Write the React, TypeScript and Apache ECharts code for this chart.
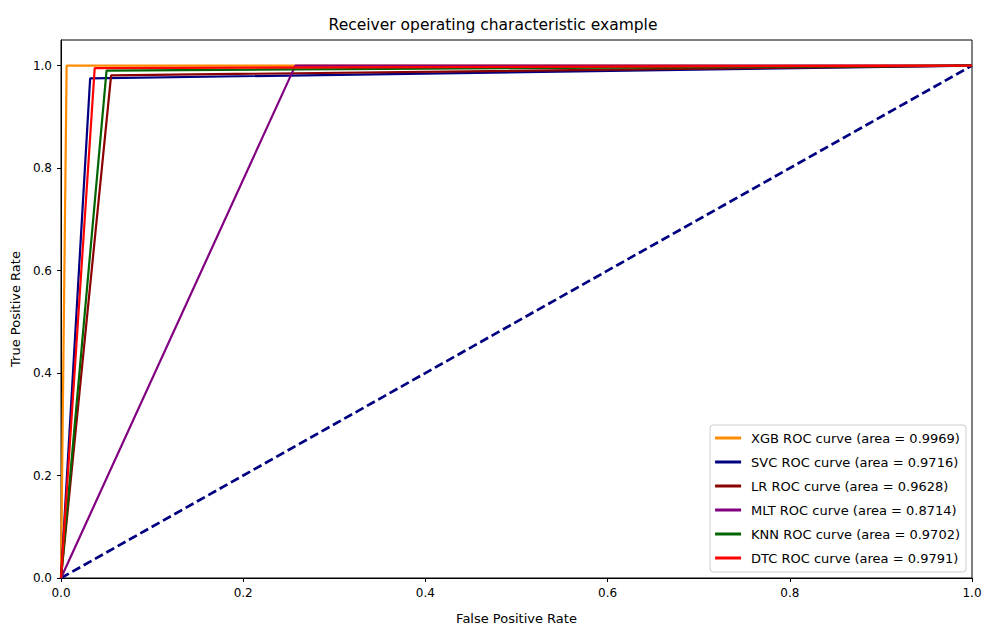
import React, { useEffect, useRef } from "react";
import * as echarts from "echarts";

const models = ["XGB", "SVC", "LR", "MLT", "KNN", "DTC"];
const areas = ["0.9969", "0.9716", "0.9628", "0.8714", "0.9702", "0.9791"];
const cornerFpr = [0.0062, 0.032, 0.055, 0.2572, 0.05, 0.037];
const cornerTpr = [1.0, 0.975, 0.981, 1.0, 0.9904, 0.9952];
const colors = ["#ff8c00", "#000080", "#8b0000", "#800080", "#006400", "#ff0000"];
const chanceLine = [
  [0, 0],
  [1, 1],
];
const tickValues = [0, 0.2, 0.4, 0.6, 0.8, 1.0];

const FONT = "DejaVu Sans";

export default function App() {
  const ref = useRef<HTMLDivElement>(null);
  useEffect(() => {
    if (!ref.current) return;
    const chart = echarts.init(ref.current, undefined, { renderer: "svg" });
    const names = models.map((m, i) => `${m} ROC curve (area = ${areas[i]})`);
    const series: any[] = models.map((m, i) => ({
      name: names[i],
      type: "line",
      symbol: "none",
      data: [
        [0, 0],
        [cornerFpr[i], cornerTpr[i]],
        [1, 1],
      ],
      lineStyle: { color: colors[i], width: 2.2 },
      itemStyle: { color: colors[i] },
      z: 3 + i,
    }));
    series.unshift({
      name: "chance",
      type: "line",
      symbol: "none",
      data: chanceLine,
      lineStyle: { color: "#000080", width: 2.7, type: [9, 4] },
      itemStyle: { color: "#000080" },
      z: 2,
    });
    const axisCommon = {
      type: "value",
      axisLine: { show: true, onZero: false, lineStyle: { color: "#000", width: 1 } },
      axisTick: { show: true, inside: false, length: 4, lineStyle: { color: "#000" }, customValues: tickValues },
      splitLine: { show: false },
      nameTextStyle: { fontFamily: FONT, fontSize: 13, color: "#000" },
    };
    chart.setOption({
      animation: false,
      backgroundColor: "#fff",
      title: {
        text: "Receiver operating characteristic example",
        left: "center",
        top: 12,
        textStyle: { fontFamily: FONT, fontSize: 15.5, fontWeight: "normal", color: "#000" },
      },
      grid: {
        left: 61,
        right: 14,
        top: 40,
        bottom: 50,
        outerBoundsMode: "none",
        containLabel: false,
        show: true,
        borderColor: "#000",
        borderWidth: 1,
        backgroundColor: "transparent",
      },
      xAxis: {
        ...axisCommon,
        min: 0,
        max: 1,
        interval: 0.2,
        name: "False Positive Rate",
        nameLocation: "middle",
        nameGap: 34,
        axisLabel: {
          fontFamily: FONT,
          fontSize: 12,
          color: "#000",
          margin: 9,
          customValues: tickValues,
          formatter: (v: number) => v.toFixed(1),
        },
      },
      yAxis: {
        ...axisCommon,
        min: 0,
        max: 1.05,
        interval: 0.2,
        name: "True Positive Rate",
        nameLocation: "middle",
        nameGap: 37,
        axisLabel: {
          fontFamily: FONT,
          fontSize: 12,
          color: "#000",
          margin: 9,
          customValues: tickValues,
          formatter: (v: number) => v.toFixed(1),
        },
      },
      legend: {
        data: names,
        orient: "vertical",
        right: 20,
        bottom: 56,
        icon: "rect",
        itemWidth: 26,
        itemHeight: 3,
        itemGap: 10,
        padding: [6, 6, 7, 5],
        borderColor: "#cccccc",
        borderWidth: 1,
        borderRadius: 3,
        backgroundColor: "rgba(255,255,255,0.8)",
        textStyle: { fontFamily: FONT, fontSize: 13, color: "#000", lineHeight: 14, padding: [0, 0, 0, 5] },
      },
      series,
    });
    return () => chart.dispose();
  }, []);
  return <div ref={ref} style={{ width: 986, height: 628, position: "absolute", left: 0, top: 0 }} />;
}
